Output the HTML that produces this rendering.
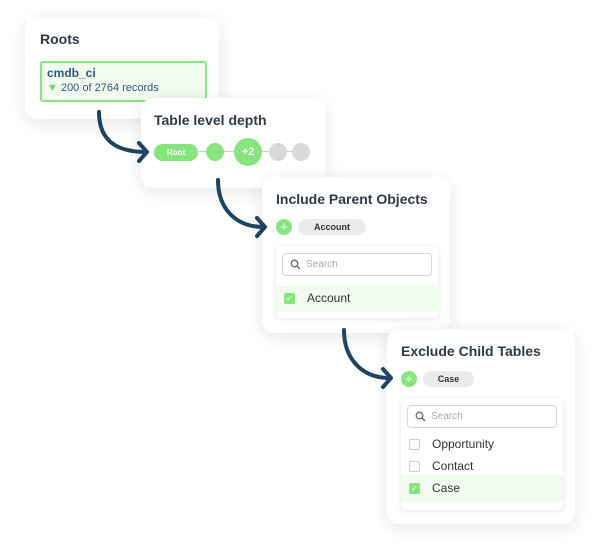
<!DOCTYPE html>
<html><head><style>
body{margin:0;width:600px;height:558px;background:#fff;position:relative;overflow:hidden;font-family:"Liberation Sans",sans-serif;}
.card{position:absolute;background:#fff;border-radius:12px;box-shadow:0 4px 18px rgba(0,0,0,0.10);}
.t{position:absolute;font-size:14px;font-weight:bold;color:#2f3a45;}
.abs{position:absolute;}
.pill{position:absolute;background:#ebebeb;border-radius:9px;font-size:9px;font-weight:bold;color:#333;text-align:center;}
.plus{position:absolute;width:16px;height:16px;border-radius:50%;background:#86e57c;color:#fff;font-size:13px;line-height:16px;text-align:center;}
.panel{position:absolute;background:#fff;border-radius:5px;box-shadow:0 1px 6px rgba(0,0,0,0.10);}
.search{position:absolute;border:1px solid #d5d5d5;border-radius:4px;background:#fff;font-size:10px;color:#aaa;}
.search svg{position:absolute;left:7px;top:5px;}
.search span{position:absolute;left:23px;top:0;}
.cb{position:absolute;width:9px;height:9px;border:1px solid #ccc;border-radius:2px;background:#fff;}
.cb.on{background:#86e57c;border-color:#86e57c;color:#fff;font-size:8px;line-height:9px;text-align:center;}
.lbl{position:absolute;font-size:12px;color:#333;}
</style></head><body>
<div class="card" style="left:25px;top:17px;width:194px;height:102px;"></div>
<div class="t" style="left:40px;top:31px;">Roots</div>
<div class="abs" style="left:40px;top:61px;width:163px;height:37px;border:2px solid #86e57c;border-radius:3px;background:#f1fbef;"></div>
<div class="abs" style="left:47px;top:66px;font-size:12px;font-weight:bold;color:#2d5a7a;">cmdb_ci</div>
<div class="abs" style="left:47px;top:82px;font-size:11px;color:#2d5a7a;"><span style="color:#6fd764">&#9660;</span> 200 of 2764 records</div>

<div class="card" style="left:141px;top:98px;width:184px;height:90px;"></div>
<div class="t" style="left:154px;top:112px;">Table level depth</div>
<div class="abs" style="left:190px;top:151px;width:110px;height:1px;background:#ccc;"></div>
<div class="abs" style="left:154px;top:144px;width:44px;height:17px;border-radius:9px;background:#86e57c;color:#fff;font-size:8px;font-weight:bold;text-align:center;line-height:17px;">Root</div>
<div class="abs" style="left:206px;top:143px;width:18px;height:18px;border-radius:50%;background:#86e57c;"></div>
<div class="abs" style="left:234px;top:138px;width:28px;height:28px;border-radius:50%;background:#86e57c;color:#fff;font-size:11px;font-weight:bold;text-align:center;line-height:28px;">+2</div>
<div class="abs" style="left:269px;top:143px;width:18px;height:18px;border-radius:50%;background:#d9d9d9;"></div>
<div class="abs" style="left:292px;top:143px;width:18px;height:18px;border-radius:50%;background:#d9d9d9;"></div>

<div class="card" style="left:262px;top:177px;width:188px;height:156px;"></div>
<div class="t" style="left:276px;top:191px;">Include Parent Objects</div>
<div class="plus" style="left:276px;top:219px;">+</div>
<div class="pill" style="left:298px;top:219px;width:68px;height:16px;line-height:16px;">Account</div>
<div class="panel" style="left:276px;top:246px;width:162px;height:72px;"></div>
<div class="search" style="left:282px;top:253px;width:148px;height:21px;line-height:21px;"><svg width="11" height="11"><circle cx="4.5" cy="4.5" r="3.3" fill="none" stroke="#666" stroke-width="1.3"/><path d="M7 7 L10 10" stroke="#666" stroke-width="1.3"/></svg><span>Search</span></div>
<div class="abs" style="left:276px;top:285px;width:162px;height:27px;background:#f1fbef;"></div>
<div class="cb on" style="left:284px;top:293px;">&#10003;</div>
<div class="lbl" style="left:307px;top:291px;">Account</div>

<div class="card" style="left:387px;top:329px;width:188px;height:195px;"></div>
<div class="t" style="left:401px;top:343px;">Exclude Child Tables</div>
<div class="plus" style="left:401px;top:371px;">+</div>
<div class="pill" style="left:423px;top:371px;width:51px;height:16px;line-height:16px;">Case</div>
<div class="panel" style="left:401px;top:398px;width:162px;height:112px;"></div>
<div class="search" style="left:407px;top:405px;width:148px;height:21px;line-height:21px;"><svg width="11" height="11"><circle cx="4.5" cy="4.5" r="3.3" fill="none" stroke="#666" stroke-width="1.3"/><path d="M7 7 L10 10" stroke="#666" stroke-width="1.3"/></svg><span>Search</span></div>
<div class="cb" style="left:409px;top:439px;"></div>
<div class="lbl" style="left:432px;top:437px;">Opportunity</div>
<div class="cb" style="left:409px;top:461px;"></div>
<div class="lbl" style="left:432px;top:459px;">Contact</div>
<div class="abs" style="left:401px;top:475px;width:162px;height:27px;background:#f1fbef;"></div>
<div class="cb on" style="left:409px;top:483px;">&#10003;</div>
<div class="lbl" style="left:432px;top:481px;">Case</div>

<svg class="abs" style="left:0;top:0" width="600" height="558">
<g fill="none" stroke="#1e4462" stroke-width="4" stroke-linecap="round" stroke-linejoin="round">
<path d="M99 112 C99 140 116 152 146 152"/><path d="M139 143 L147 152 L139 161"/>
<path d="M218 180 C218 208 235 227 264 227"/><path d="M257 218 L265 227 L257 236"/>
<path d="M344 330 C344 358 361 378 390 378"/><path d="M383 369 L391 378 L383 387"/>
</g></svg>
</body></html>
